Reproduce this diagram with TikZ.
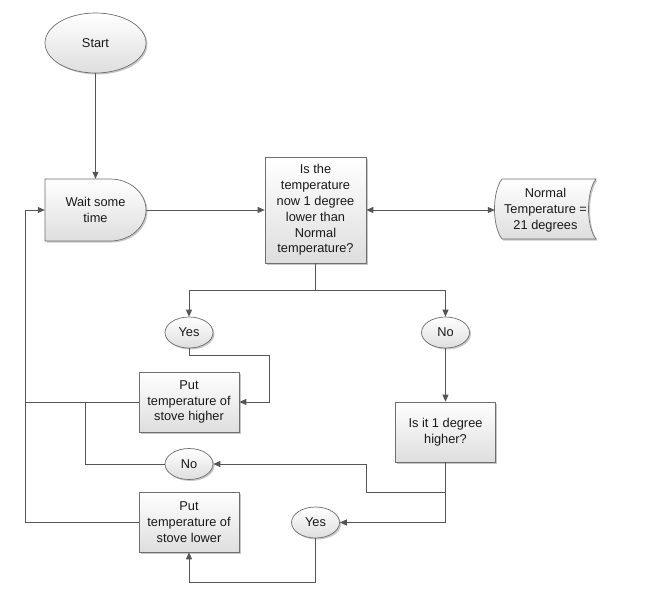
\documentclass[tikz,border=0pt]{standalone}
\usepackage{fontspec}
\setmainfont{Liberation Sans}
\usetikzlibrary{arrows.meta,shadows,calc,shapes.geometric}
\definecolor{lncol}{RGB}{85,85,85}
\definecolor{boxbd}{RGB}{110,110,110}
\definecolor{boxbot}{RGB}{222,222,222}
\begin{document}
\begin{tikzpicture}[x=1pt,y=-1pt,
 every node/.style={font=\fontsize{12.8}{15.8}\selectfont, align=center, text=black!90},
 ln/.style={draw=lncol, line width=0.8pt},
 arr/.style={ln, -{Triangle[length=7pt,width=6pt]}},
 shd/.style={top color=white, bottom color=boxbot, draw=boxbd, line width=0.7pt,
   drop shadow={shadow xshift=1.5pt, shadow yshift=-1.5pt, fill=black, opacity=0.22}},
 proc/.style={shd, rectangle, minimum width=100pt, minimum height=60pt, inner sep=1pt},
 oval/.style={shd, ellipse, minimum width=48pt, minimum height=31pt, inner sep=0pt},
 ghost/.style={rectangle, inner sep=0pt}
]
\fill[white] (0,0) rectangle (649,614);
\useasboundingbox (0,0) rectangle (649,614);

% nodes
\node[oval, minimum width=101pt, minimum height=60pt] (start) at (95.5,43) {Start};

\path[shd] (45,179) -- (110,179) .. controls (129.9,179) and (146,192.9) .. (146,210)
  .. controls (146,227.1) and (129.9,241) .. (110,241) -- (45,241) -- cycle;
\node[ghost, minimum width=101pt, minimum height=62pt] (wait) at (95.5,210) {Wait some\\time};

\node[proc, minimum width=101pt, minimum height=106pt] (dec) at (315.5,210)
  {Is the\\temperature\\now 1 degree\\lower than\\Normal\\temperature?};

\path[shd] (502,179) -- (596,179) .. controls (586,192) and (586,226) .. (596,239)
  -- (502,239) .. controls (492,226) and (492,192) .. (502,179) -- cycle;
\node[ghost, minimum width=101pt, minimum height=60pt] (norm) at (545.5,210)
  {Normal\\Temperature =\\21 degrees};

\node[oval] (yes1) at (189,332.5) {Yes};
\node[oval] (no1) at (445.5,332.5) {No};
\node[proc] (higher) at (189,402) {Put\\temperature of\\stove higher};
\node[oval] (no2) at (189,464) {No};
\node[proc] (deg) at (445.5,432) {Is it 1 degree\\higher?};
\node[oval] (yes2) at (315.5,522.5) {Yes};
\node[proc] (lower) at (189,522) {Put\\temperature of\\stove lower};

% connectors
\draw[arr] (start) -- (wait);
\draw[arr] (wait) -- (dec);
\draw[ln, {Triangle[length=7pt,width=6pt]}-{Triangle[length=7pt,width=6pt]}] (dec) -- (norm);
\coordinate (split) at ($(dec.south)+(0,27)$);
\draw[ln] (dec.south) -- (split);
\draw[arr] (split) -| (yes1);
\draw[arr] (split) -| (no1);
\draw[arr] (yes1.south) -- ++(0,7.5) -- ++(80,0) |- (higher.east);
\draw[ln] (higher.west) -- ++(-113,0);
\draw[ln] (no2.west) -| ($(higher.west)+(-53,0)$);
\draw[arr] (lower.west) -- ++(-113,0) |- (wait.west);
\draw[arr] (no1) -- (deg);
\draw[arr] (deg.south) |- (yes2.east);
\draw[arr] ($(deg.south)+(0,30)$) -- ++(-79.5,0) |- (no2.east);
\draw[arr] (yes2.south) -- ++(0,44) -| (lower.south);
\end{tikzpicture}
\end{document}
